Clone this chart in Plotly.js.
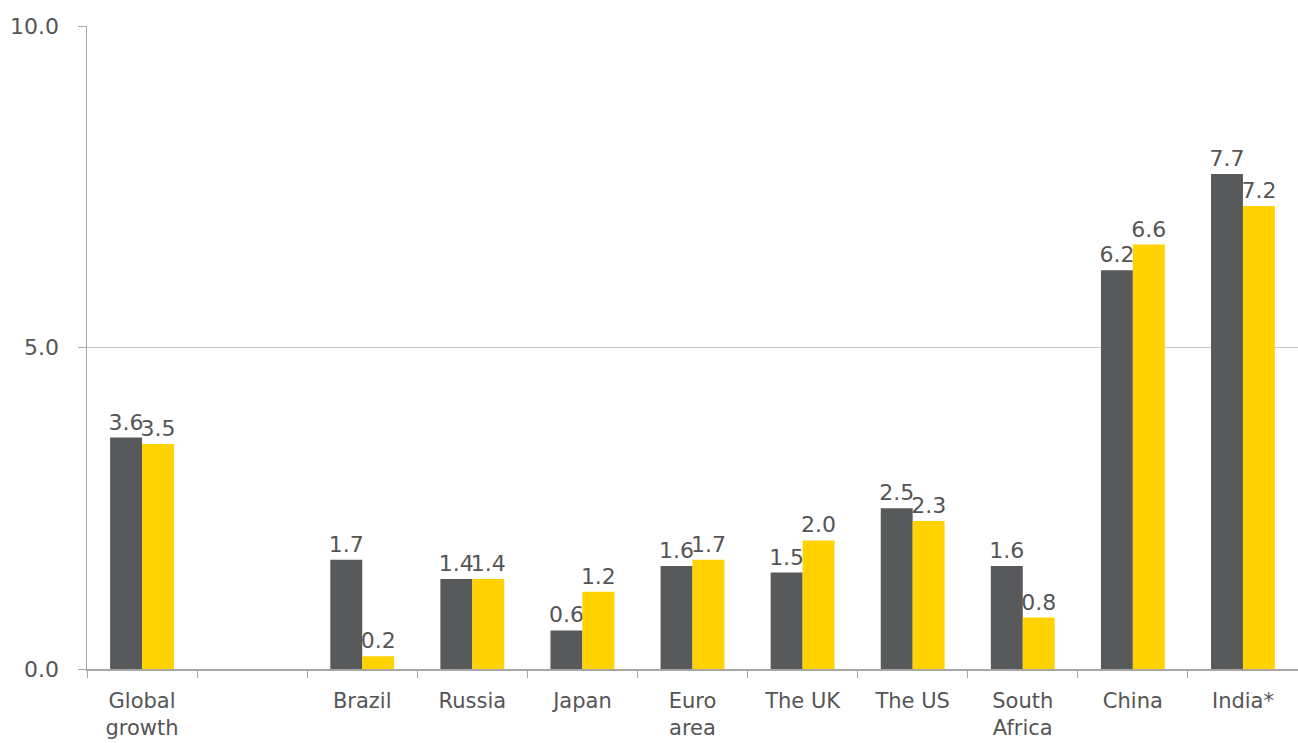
<!DOCTYPE html>
<html><head><meta charset="utf-8">
<script src="https://cdn.plot.ly/plotly-3.0.1.min.js"></script>
<style>html,body{margin:0;padding:0;background:#fff}</style>
</head><body>
<div id="chart" style="width:1298px;height:743px"></div>
<script>
const categories = ["Global<br>growth", " ", "Brazil", "Russia", "Japan", "Euro<br>area", "The UK", "The US", "South<br>Africa", "China", "India*"];
const seriesA = [3.6, null, 1.7, 1.4, 0.6, 1.6, 1.5, 2.5, 1.6, 6.2, 7.7];
const seriesB = [3.5, null, 0.2, 1.4, 1.2, 1.7, 2.0, 2.3, 0.8, 6.6, 7.2];
const yTicks = [0, 5, 10];

const fontFam = "DejaVu Sans, Open Sans, sans-serif";
const txtColor = '#555555';
function lbl(arr){ return arr.map(v => v == null ? "" : v.toFixed(1)); }
const common = {type:'bar', x: categories, textposition:'outside', cliponaxis:false, constraintext:'none',
  textfont:{family:fontFam, size:22, color:txtColor}, hoverinfo:'none'};
const data = [
  Object.assign({}, common, {y: seriesA, text: lbl(seriesA), marker:{color:'#58595B'}, name:'A'}),
  Object.assign({}, common, {y: seriesB, text: lbl(seriesB), marker:{color:'#FFD200'}, name:'B'})
];
const layout = {
  width:1298, height:743,
  margin:{l:87, r:0, t:26, b:74},
  barmode:'group', bargap:0.42, bargroupgap:0,
  showlegend:false,
  paper_bgcolor:'#fff', plot_bgcolor:'#fff',
  font:{family:fontFam, size:21, color:txtColor},
  xaxis:{type:'category', tickson:'boundaries', ticks:'outside', ticklen:7, tickcolor:'#a6a6a6',
    showline:true, linecolor:'#a6a6a6', linewidth:1.5, showgrid:false, fixedrange:true,
    ticklabelstandoff:12,
    tickfont:{family:fontFam, size:21, color:txtColor}},
  yaxis:{range:[0,10], tickvals:yTicks, ticktext:yTicks.map(v=>v.toFixed(1)), ticks:'outside', ticklen:8,
    tickcolor:'#a6a6a6', showline:true, linecolor:'#a6a6a6', linewidth:1.5,
    ticklabelstandoff:14,
    showgrid:true, gridcolor:'#c8c8c8', gridwidth:1, zeroline:false,
    tickfont:{family:fontFam, size:22, color:txtColor}}
};
Plotly.newPlot('chart', data, layout, {displayModeBar:false, staticPlot:true});
</script>
</body></html>
